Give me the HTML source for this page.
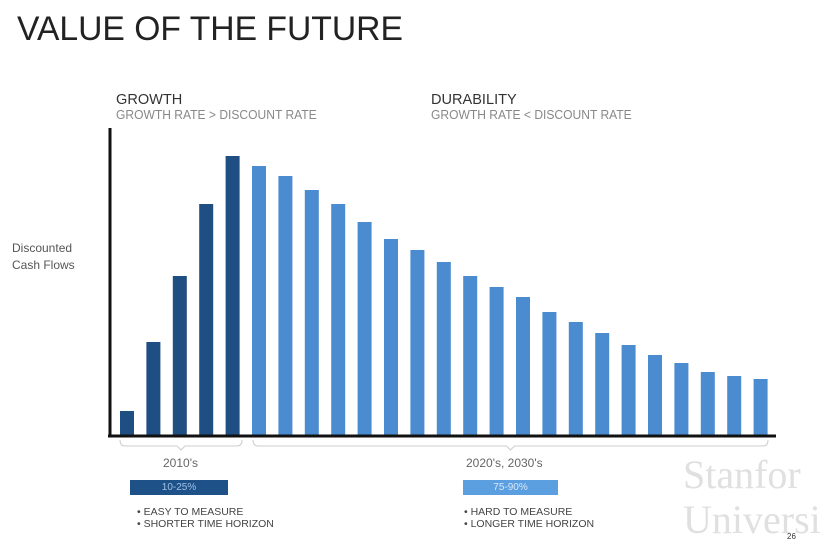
<!DOCTYPE html>
<html><head><meta charset="utf-8"><style>
body{margin:0;width:821px;height:547px;background:#fff;overflow:hidden;font-family:"Liberation Sans",sans-serif;position:relative}
.t{position:absolute;white-space:nowrap;transform-origin:0 0}
</style></head><body>
<div class="t" style="left:17px;top:10px;font-size:34px;color:#222;transform:scaleX(0.99)">VALUE OF THE FUTURE</div>
<div class="t" style="left:116px;top:91px;font-size:15px;color:#333;transform:scaleX(0.97)">GROWTH</div>
<div class="t" style="left:116px;top:108px;font-size:12.5px;color:#888;transform:scaleX(0.965)">GROWTH RATE &gt; DISCOUNT RATE</div>
<div class="t" style="left:431px;top:91px;font-size:15px;color:#333;transform:scaleX(0.97)">DURABILITY</div>
<div class="t" style="left:431px;top:108px;font-size:12.5px;color:#888;transform:scaleX(0.965)">GROWTH RATE &lt; DISCOUNT RATE</div>
<div class="t" style="left:12px;top:240px;font-size:12px;color:#555;line-height:17px">Discounted<br>Cash Flows</div>
<svg id="chart" width="821" height="547" style="position:absolute;left:0;top:0"></svg>
<div class="t" style="left:163px;top:456px;font-size:12px;color:#666">2010's</div>
<div class="t" style="left:466px;top:456px;font-size:12px;color:#666">2020's, 2030's</div>
<div class="t" style="left:130px;top:480px;width:98px;height:15px;background:#1f5189;color:#9fc0e6;font-size:10px;text-align:center;line-height:15px">10-25%</div>
<div class="t" style="left:463px;top:480px;width:95px;height:15px;background:#5b9fe0;color:#d6e8fa;font-size:10px;text-align:center;line-height:15px">75-90%</div>
<div class="t" style="left:137px;top:506px;font-size:10.5px;color:#444;line-height:12px">• EASY TO MEASURE<br>• SHORTER TIME HORIZON</div>
<div class="t" style="left:464px;top:506px;font-size:10.5px;color:#444;line-height:12px">• HARD TO MEASURE<br>• LONGER TIME HORIZON</div>
<div class="t" style="left:683px;top:452px;font-family:'Liberation Serif',serif;font-size:40px;color:#e0e0e0;line-height:45px">Stanfor<br>Universit</div>
<div class="t" style="left:787px;top:532px;font-size:8px;color:#333">26</div>
<script>
const growthValues=[24,93,159,231,279];
const durabilityValues=[269,259,245,231,213,196,185,173,159,148,138,123,113,102,90,80,72,63,59,56];
const x0=127, step=26.4, baseY=435, barW=14;
const ns="http://www.w3.org/2000/svg";
const svg=document.getElementById('chart');
function xPos(i){return x0+i*step;}
function yPos(v){return baseY-v;}
function bar(i,v,col,name){
  const r=document.createElementNS(ns,'rect');
  r.setAttribute('x',xPos(i)-barW/2);r.setAttribute('y',yPos(v));
  r.setAttribute('width',barW);r.setAttribute('height',baseY-yPos(v));
  r.setAttribute('fill',col);
  
  
  svg.appendChild(r);
}
growthValues.forEach((v,i)=>bar(i,v,'#1f4e82','growth-bar'));
durabilityValues.forEach((v,i)=>bar(i+growthValues.length,v,'#4a8ccf','durability-bar'));
function line(x1,y1,x2,y2,c,w,name){
  const l=document.createElementNS(ns,'line');
  l.setAttribute('x1',x1);l.setAttribute('y1',y1);l.setAttribute('x2',x2);l.setAttribute('y2',y2);
  l.setAttribute('stroke',c);l.setAttribute('stroke-width',w);
  
  
  svg.appendChild(l);
}
line(110,128,110,437,'#111',3,'y-axis');
line(108,436,776,436,'#111',3,'x-axis');
function brace(x1,x2,name){
  const p=document.createElementNS(ns,'path');
  const m=(x1+x2)/2;
  p.setAttribute('d',`M${x1} 440 Q${x1} 446 ${x1+5} 446 L${m-4} 446 L${m} 450 L${m+4} 446 L${x2-5} 446 Q${x2} 446 ${x2} 440`);
  p.setAttribute('fill','none');p.setAttribute('stroke','#ccc');p.setAttribute('stroke-width',1);
  
  
  svg.appendChild(p);
}
brace(120,242,'brace-2010s');
brace(253,768,'brace-2020s-2030s');
</script>
</body></html>
